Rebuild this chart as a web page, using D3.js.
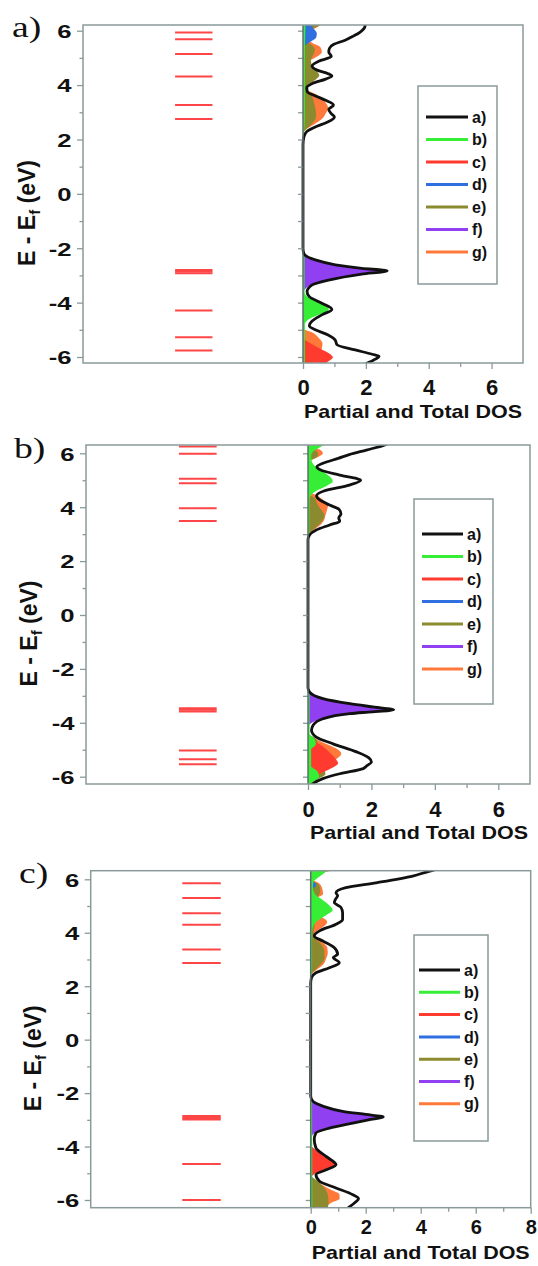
<!DOCTYPE html>
<html>
<head>
<meta charset="utf-8">
<script src="https://cdn.jsdelivr.net/npm/d3@7"></script>
<style>
  body { margin: 0; background: #fff; }
  svg { display: block; }
  text { font-family: "Liberation Sans", Arial, sans-serif; font-weight: bold; fill: #111; }
</style>
</head>
<body>
<svg width="538" height="1266"></svg>
<script>
// series names (legend) and colours
const SERIES = ['a)', 'b)', 'c)', 'd)', 'e)', 'f)', 'g)'];
const COLORS = ['#111111', '#36ee36', '#ff3b2f', '#2f6fe0', '#8c8a2e', '#9040f0', '#ff7a3a'];
const Y_TICKS = [-6, -4, -2, 0, 2, 4, 6];
const Y_MINOR = [-5, -3, -1, 1, 3, 5];
const Y_ZERO_TICKS = [-6, -5, -4, -3, -2, -1, 0, 1, 2, 3, 4, 5, 6];
const X_TICKS_AB = [0, 2, 4, 6];
const X_MINOR_AB = [1, 3, 5, 7];
const X_TICKS_C = [0, 2, 4, 6, 8];
const X_MINOR_C = [1, 3, 5, 7];

// energy levels (eV), drawn as short red bars
const levelsA = [5.93, 5.69, 5.14, 4.32, 3.27, 2.75, -2.80, -2.86, -2.92, -4.29, -5.27, -5.76];
const levelsB = [6.25, 5.98, 5.06, 4.89, 3.96, 3.49, -3.46, -3.52, -3.58, -5.03, -5.35, -5.54];
const levelsC = [5.85, 5.30, 4.73, 4.30, 3.37, 2.87, -2.86, -2.93, -2.99, -4.65, -6.00];
const levelSpanAB = [-4.07, -2.88];
const levelSpanC = [-4.67, -3.27];

// DOS curves: [energy, DOS]
// panel a
const aTotal = [[6.25,1.98],[6.15,1.97],[5.95,1.82],[5.8,1.6],[5.65,1.34],[5.5,0.98],[5.35,0.84],[5.22,0.82],[5.05,0.9],[4.88,0.5],[4.7,0.29],[4.55,0.45],[4.42,0.8],[4.33,0.92],[4.22,0.72],[4.05,0.28],[3.9,0.12],[3.75,0.14],[3.6,0.4],[3.44,0.72],[3.27,0.97],[3.1,0.82],[2.95,0.9],[2.83,1.0],[2.65,0.8],[2.46,0.39],[2.3,0.13],[2.1,0.03],[1.8,0.0],[-2.0,0.0],[-2.2,0.03],[-2.43,0.39],[-2.61,1.03],[-2.74,1.87],[-2.83,2.68],[-2.95,1.87],[-3.17,0.81],[-3.35,0.29],[-3.6,0.13],[-3.78,0.2],[-4.02,0.6],[-4.25,0.92],[-4.45,0.6],[-4.68,0.29],[-4.85,0.2],[-5.0,0.39],[-5.19,0.8],[-5.37,1.02],[-5.55,1.08],[-5.74,1.66],[-5.9,2.2],[-5.98,2.42],[-6.08,2.3],[-6.25,2.0]];
const aB = [[6.25,0.08],[5.0,0.06],[3.0,0.06],[2.3,0.04],[2.1,0],[-2.1,0],[-2.3,0.05],[-3.6,0.05],[-3.75,0.1],[-3.95,0.4],[-4.1,0.68],[-4.25,0.82],[-4.4,0.6],[-4.6,0.2],[-4.8,0.06],[-6.25,0.06]];
const aC = [[-5.35,0],[-5.5,0.25],[-5.7,0.55],[-5.88,0.85],[-6.02,0.95],[-6.15,0.82],[-6.25,0.7]];
const aD = [[6.25,0.22],[6.1,0.32],[5.9,0.44],[5.75,0.42],[5.6,0.25],[5.45,0.06],[5.35,0]];
const aE = [[6.25,0.55],[6.15,0.48],[6.05,0.2],[5.9,0.1],[5.6,0.12],[5.45,0.3],[5.3,0.38],[5.1,0.32],[4.9,0.25],[4.7,0.3],[4.5,0.45],[4.35,0.52],[4.2,0.4],[4.0,0.15],[3.85,0.1],[3.6,0.28],[3.35,0.35],[3.1,0.4],[2.85,0.42],[2.6,0.3],[2.4,0.12],[2.25,0]];
const aF = [[-2.2,0],[-2.3,0.06],[-2.43,0.36],[-2.61,0.98],[-2.74,1.82],[-2.83,2.62],[-2.95,1.82],[-3.17,0.76],[-3.35,0.25],[-3.5,0.07],[-3.65,0]];
const aG = [[6.25,0.62],[6.1,0.4],[5.95,0.2],[5.75,0.12],[5.55,0.3],[5.4,0.55],[5.22,0.6],[5.05,0.45],[4.85,0.15],[4.7,0.05],[4.5,0.05],[4.3,0.1],[4.0,0.08],[3.85,0.1],[3.7,0.35],[3.5,0.62],[3.3,0.75],[3.15,0.8],[2.95,0.72],[2.75,0.6],[2.55,0.35],[2.35,0.08],[2.2,0],[-4.95,0],[-5.1,0.3],[-5.3,0.5],[-5.5,0.62],[-5.7,0.6],[-5.9,0.5],[-6.1,0.4],[-6.25,0.35]];

// panel b
const bTotal = [[6.35,2.5],[6.3,2.4],[6.12,1.84],[5.95,1.3],[5.81,0.95],[5.63,0.47],[5.5,0.28],[5.38,0.4],[5.19,1.0],[5.0,1.66],[4.82,1.3],[4.6,0.5],[4.42,0.27],[4.27,0.37],[4.08,0.68],[3.92,0.98],[3.75,1.04],[3.6,0.97],[3.48,1.0],[3.34,0.68],[3.15,0.26],[2.97,0.05],[2.8,0],[-2.7,0],[-2.86,0.05],[-3.1,0.47],[-3.29,1.32],[-3.42,2.1],[-3.52,2.7],[-3.6,1.9],[-3.66,1.32],[-3.85,0.47],[-4.09,0.16],[-4.28,0.11],[-4.53,0.26],[-4.78,0.79],[-5.08,1.53],[-5.3,1.92],[-5.45,2.0],[-5.6,1.85],[-5.7,1.74],[-5.89,1.0],[-6.07,0.47],[-6.3,0.1]];
const bB = [[6.35,0.55],[6.25,0.42],[6.1,0.2],[5.9,0.1],[5.7,0.12],[5.5,0.25],[5.3,0.5],[5.1,0.72],[4.95,0.78],[4.8,0.6],[4.6,0.25],[4.45,0.1],[4.3,0.05],[3.0,0.04],[2.85,0],[-2.75,0],[-2.9,0.05],[-4.4,0.05],[-4.6,0.2],[-4.8,0.25],[-5.0,0.1],[-5.6,0.1],[-5.8,0.3],[-6.0,0.35],[-6.2,0.15],[-6.35,0.05]];
const bC = [[-4.6,0],[-4.75,0.3],[-4.95,0.55],[-5.15,0.72],[-5.35,0.88],[-5.5,0.95],[-5.65,0.8],[-5.85,0.45],[-6.05,0.15],[-6.2,0]];
const bD = [];
const bE = [[6.2,0],[6.1,0.25],[5.95,0.32],[5.8,0.2],[5.7,0],[4.5,0],[4.35,0.2],[4.1,0.3],[3.85,0.45],[3.7,0.52],[3.5,0.45],[3.3,0.3],[3.1,0.1],[2.95,0],[-4.4,0],[-4.55,0.2],[-4.75,0.3],[-5.0,0.25],[-5.4,0.3],[-5.7,0.5],[-5.9,0.55],[-6.1,0.3],[-6.3,0.05]];
const bF = [[-2.75,0],[-2.86,0.04],[-3.1,0.44],[-3.29,1.28],[-3.42,2.05],[-3.52,2.64],[-3.6,1.85],[-3.66,1.28],[-3.85,0.44],[-4.0,0.12],[-4.15,0]];
const bG = [[6.25,0],[6.15,0.35],[6.0,0.47],[5.85,0.3],[5.7,0],[4.6,0],[4.45,0.25],[4.25,0.5],[4.05,0.63],[3.9,0.6],[3.7,0.55],[3.5,0.5],[3.3,0.35],[3.1,0.12],[2.95,0],[-4.45,0],[-4.6,0.25],[-4.8,0.6],[-5.0,0.95],[-5.15,1.05],[-5.3,0.95],[-5.5,0.7],[-5.7,0.5],[-5.9,0.3],[-6.1,0.1],[-6.3,0]];

// panel c
const cTotal = [[6.35,4.5],[6.3,4.3],[6.12,3.71],[5.87,2.38],[5.69,1.28],[5.5,0.92],[5.38,0.98],[5.25,0.9],[5.13,0.86],[4.95,1.1],[4.75,1.16],[4.5,1.16],[4.32,0.92],[4.07,0.32],[3.88,0.13],[3.69,0.44],[3.44,0.86],[3.2,0.98],[3.07,0.82],[2.88,1.04],[2.69,0.68],[2.5,0.19],[2.32,0.03],[2.1,0],[-2.1,0],[-2.27,0.05],[-2.49,0.44],[-2.68,1.16],[-2.8,2.0],[-2.89,2.64],[-3.0,2.1],[-3.12,1.53],[-3.31,0.68],[-3.49,0.19],[-3.74,0.13],[-4.05,0.19],[-4.37,0.56],[-4.68,0.92],[-4.87,0.56],[-5.05,0.19],[-5.3,0.32],[-5.55,0.92],[-5.8,1.53],[-5.95,1.74],[-6.1,1.6],[-6.3,1.35]];
const cB = [[6.35,0.62],[6.2,0.45],[6.05,0.25],[5.9,0.1],[5.7,0.08],[5.45,0.15],[5.25,0.4],[5.05,0.65],[4.85,0.8],[4.65,0.55],[4.45,0.25],[4.25,0.1],[4.0,0.05],[2.5,0.05],[2.35,0],[-2.15,0],[-2.3,0.05],[-6.35,0.06]];
const cC = [[6.35,0.9],[6.28,0.55],[6.2,0],[-3.9,0],[-4.1,0.15],[-4.35,0.52],[-4.58,0.86],[-4.68,0.88],[-4.85,0.52],[-5.0,0.18],[-5.15,0]];
const cD = [[5.95,0],[5.85,0.18],[5.75,0.2],[5.65,0]];
const cE = [[5.95,0],[5.8,0.3],[5.6,0.35],[5.4,0.3],[5.25,0.1],[5.15,0],[4.5,0],[4.3,0.15],[4.05,0.1],[3.8,0.15],[3.55,0.4],[3.3,0.5],[3.05,0.5],[2.8,0.35],[2.6,0.15],[2.45,0],[-5.05,0],[-5.3,0.25],[-5.55,0.5],[-5.8,0.62],[-6.1,0.65],[-6.35,0.6]];
const cF = [[-2.15,0],[-2.27,0.04],[-2.49,0.42],[-2.68,1.12],[-2.8,1.95],[-2.89,2.58],[-3.0,2.05],[-3.12,1.48],[-3.31,0.64],[-3.49,0.16],[-3.65,0]];
const cG = [[6.0,0],[5.85,0.3],[5.65,0.42],[5.45,0.45],[5.3,0.2],[5.2,0],[4.7,0],[4.55,0.45],[4.4,0.6],[4.25,0.5],[4.05,0.2],[3.9,0.1],[3.7,0.35],[3.45,0.6],[3.25,0.62],[3.0,0.55],[2.8,0.45],[2.6,0.2],[2.4,0],[-5.1,0],[-5.35,0.3],[-5.6,0.7],[-5.8,1.05],[-5.95,1.05],[-6.1,0.75],[-6.35,0.5]];

// layout of the three panels
const panels = [
  { name: 'a)', series: [aTotal, aB, aC, aD, aE, aF, aG], levels: levelsA, span: levelSpanAB,
    xTicks: X_TICKS_AB, xMinor: X_MINOR_AB, xMax: 7,
    left: 83, right: 523, top: 25, bottom: 363, y6: 30.7, ym6: 357,
    labelX: 12, labelY: 37, titleX: 27, tickDy: 32, tickSize: 22, titleDy: 55,
    legend: { x: 418, y: 86, w: 79, h: 198, first: 117, step: 22.5, l0: 426, l1: 468 } },
  { name: 'b)', series: [bTotal, bB, bC, bD, bE, bF, bG], levels: levelsB, span: levelSpanAB,
    xTicks: X_TICKS_AB, xMinor: X_MINOR_AB, xMax: 7,
    left: 86, right: 530, top: 445, bottom: 784, y6: 453.3, ym6: 776.7,
    labelX: 14, labelY: 458, titleX: 29, tickDy: 33, tickSize: 22, titleDy: 55,
    legend: { x: 414, y: 499, w: 79, h: 205, first: 534, step: 22.5, l0: 422, l1: 463 } },
  { name: 'c)', series: [cTotal, cB, cC, cD, cE, cF, cG], levels: levelsC, span: levelSpanC,
    xTicks: X_TICKS_C, xMinor: X_MINOR_C, xMax: 8,
    left: 90.7, right: 530.7, top: 870.7, bottom: 1207.7, y6: 879.3, ym6: 1200,
    labelX: 19, labelY: 883, titleX: 33, tickDy: 26, tickSize: 20, titleDy: 51,
    legend: { x: 414, y: 935, w: 74, h: 206, first: 970, step: 22.3, l0: 419, l1: 460 } }
];

const FRAME = '#8a9a9a';
const FILL_ORDER = [6, 4, 3, 2, 5, 1];   // g, e, d, c, f, b

const svg = d3.select('svg');

panels.forEach((p, i) => {
  const x = d3.scaleLinear().domain([-p.xMax, p.xMax]).range([p.left, p.right]);
  const y = d3.scaleLinear().domain([-6, 6]).range([p.ym6, p.y6]);
  const g = svg.append('g');

  g.append('clipPath').attr('id', 'clip' + i)
    .append('rect')
    .attr('x', p.left).attr('y', p.top)
    .attr('width', p.right - p.left).attr('height', p.bottom - p.top);

  // energy levels
  g.selectAll('.level')
    .data(p.levels)
    .enter()
    .append('line')
    .attr('x1', x(p.span[0])).attr('x2', x(p.span[1]))
    .attr('y1', d => y(d)).attr('y2', d => y(d))
    .attr('stroke', '#ff4646').attr('stroke-width', 2);

  // partial DOS fills
  const area = d3.area()
    .curve(d3.curveMonotoneY)
    .y(d => y(d[0]))
    .x0(x(0))
    .x1(d => x(d[1]));
  const plot = g.append('g').attr('clip-path', `url(#clip${i})`);
  FILL_ORDER.forEach(k => {
    if (!p.series[k].length) return;
    plot.append('path').datum(p.series[k])
      .attr('d', area)
      .attr('fill', COLORS[k]);
  });

  // axis at x = 0
  g.append('g')
    .attr('transform', `translate(${x(0)},0)`)
    .call(d3.axisLeft(y).tickValues(Y_ZERO_TICKS).tickSize(5).tickFormat('').tickSizeOuter(0))
    .call(a => a.select('.domain').remove())
    .call(a => a.selectAll('line').attr('stroke', FRAME).attr('stroke-width', 1.3));
  g.append('line')
    .attr('x1', x(0)).attr('x2', x(0)).attr('y1', p.top).attr('y2', p.bottom)
    .attr('stroke', '#5f6d6d').attr('stroke-width', 1.5);

  // total DOS
  const line = d3.line()
    .curve(d3.curveMonotoneY)
    .y(d => y(d[0]))
    .x(d => x(d[1]));
  plot.append('path').datum(p.series[0])
    .attr('d', line)
    .attr('fill', 'none')
    .attr('stroke', COLORS[0])
    .attr('stroke-width', 2.8);

  // frame
  g.append('rect')
    .attr('x', p.left).attr('y', p.top)
    .attr('width', p.right - p.left).attr('height', p.bottom - p.top)
    .attr('fill', 'none').attr('stroke', FRAME).attr('stroke-width', 1.5);

  // left axis
  const yAxis = g.append('g')
    .attr('transform', `translate(${p.left},0)`)
    .call(d3.axisLeft(y).tickValues(Y_TICKS).tickSize(6).tickFormat(d => String(d)));
  yAxis.select('.domain').remove();
  yAxis.selectAll('line').attr('stroke', FRAME).attr('stroke-width', 1.3);
  yAxis.selectAll('text')
    .attr('x', -11.5 / 1.35).attr('dy', '0.36em')
    .attr('transform', 'scale(1.35,1)')
    .style('font-size', '19px').style('fill', '#111');
  g.append('g')
    .attr('transform', `translate(${p.left},0)`)
    .call(d3.axisLeft(y).tickValues(Y_MINOR).tickSize(3.5).tickFormat(''))
    .call(a => a.select('.domain').remove())
    .call(a => a.selectAll('line').attr('stroke', FRAME).attr('stroke-width', 1.3));

  // bottom axis (only the DOS half)
  const xAxis = g.append('g')
    .attr('transform', `translate(0,${p.bottom})`)
    .call(d3.axisBottom(x).tickValues(p.xTicks).tickSize(6).tickFormat(d => String(d)));
  xAxis.select('.domain').remove();
  xAxis.selectAll('line').attr('stroke', FRAME).attr('stroke-width', 1.3);
  xAxis.selectAll('text')
    .attr('y', p.tickDy).attr('dy', 0)
    .style('font-size', p.tickSize + 'px').style('fill', '#111');
  g.append('g')
    .attr('transform', `translate(0,${p.bottom})`)
    .call(d3.axisBottom(x).tickValues(p.xMinor.filter(v => v < p.xMax)).tickSize(4).tickFormat(''))
    .call(a => a.select('.domain').remove())
    .call(a => a.selectAll('line').attr('stroke', FRAME).attr('stroke-width', 1.3));

  // axis titles
  g.append('text')
    .attr('x', x(p.xMax / 2)).attr('y', p.bottom + p.titleDy)
    .attr('text-anchor', 'middle')
    .attr('textLength', 218).attr('lengthAdjust', 'spacingAndGlyphs')
    .style('font-size', '19px')
    .text('Partial and Total DOS');

  const yt = g.append('text')
    .attr('transform', `translate(${p.titleX},${(p.top + p.bottom) / 2 + 19}) rotate(-90)`)
    .attr('text-anchor', 'middle')
    .attr('dy', '0.35em')
    .style('font-size', '23px');
  yt.append('tspan').text('E - E');
  yt.append('tspan').text('f').attr('dy', '0.3em').style('font-size', '15px');
  yt.append('tspan').text(' (eV)').attr('dy', '-0.2em');

  // panel label
  g.append('text')
    .attr('transform', `translate(${p.labelX},${p.labelY}) scale(1.3,1)`)
    .style('font-family', '"Liberation Serif", "Times New Roman", serif')
    .style('font-weight', 'normal')
    .style('font-size', '29px')
    .text(p.name);

  // legend
  const L = p.legend;
  const lg = g.append('g');
  lg.append('rect')
    .attr('x', L.x).attr('y', L.y).attr('width', L.w).attr('height', L.h)
    .attr('fill', '#fff').attr('stroke', FRAME).attr('stroke-width', 1.5);
  const item = lg.selectAll('.item')
    .data(SERIES)
    .enter()
    .append('g')
    .attr('transform', (d, k) => `translate(0,${L.first + k * L.step})`);
  item.append('line')
    .attr('x1', L.l0).attr('x2', L.l1)
    .attr('stroke', (d, k) => COLORS[k])
    .attr('stroke-width', 3);
  item.append('text')
    .attr('x', L.l1 + 4).attr('dy', '0.35em')
    .style('font-size', '16px')
    .text(d => d);
});
</script>
</body>
</html>
